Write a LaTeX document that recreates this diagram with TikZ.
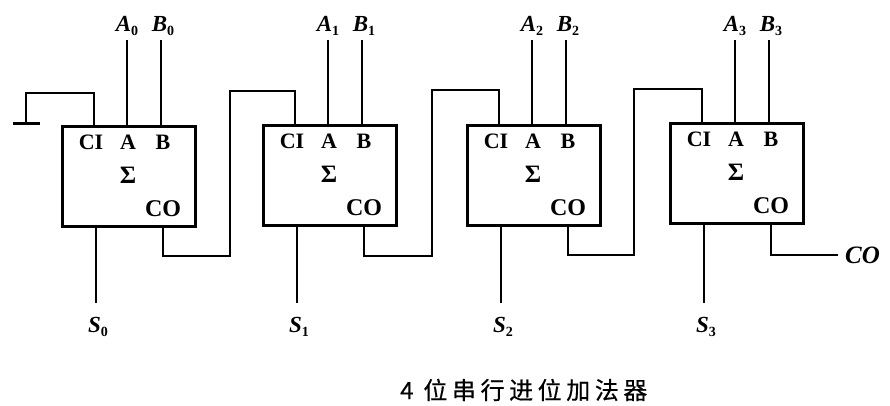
\documentclass[tikz,border=0pt]{standalone}
\usepackage{fontspec}
\setmainfont{Liberation Serif}
\newfontfamily\cjk[LetterSpace=19,FakeBold=0.5]{Noto Sans CJK SC}
\tikzset{
  adder/.style={draw,line width=2.6pt,minimum width=133pt,minimum height=100pt,inner sep=0pt,anchor=north west},
  wire/.style={draw,line width=1.3pt,line join=miter},
  pin/.style={font=\bfseries\fontsize{22}{22}\selectfont,inner sep=0pt},
  pinco/.style={font=\bfseries\fontsize{24}{24}\selectfont,inner sep=0pt},
  sig/.style={font=\bfseries\itshape\fontsize{23}{23}\selectfont,inner sep=0pt},
}
\newcommand{\subnum}[1]{\raisebox{-4pt}{\normalfont\bfseries\fontsize{14}{14}\selectfont #1}}
\begin{document}
\begin{tikzpicture}[x=1pt,y=-1pt]
\useasboundingbox (0,0) rectangle (890,406);
\foreach \i/\x/\y in {0/61/125,1/262/124,2/466/124,3/669/122}{
  \node[adder] (box\i) at (\x,\y) {};
  \node[pin] (ci\i) at (\x+30,\y+17) {CI};
  \node[pin] (a\i) at (\x+67,\y+17) {A};
  \node[pin] (b\i) at (\x+102,\y+17) {B};
  \node[pin,font=\bfseries\fontsize{25}{25}\selectfont] (sum\i) at (\x+67,\y+50) {Σ};
  \node[pinco] (co\i) at (\x+102,\y+84) {CO};
  \coordinate (ipa\i) at (\x+66,\y);
  \coordinate (ipb\i) at (\x+100,\y);
  \coordinate (ipc\i) at (\x+33,\y);
  \coordinate (ops\i) at (\x+35,\y+100);
  \coordinate (opc\i) at (\x+102,\y+100);
  \node[sig] (la\i) at (\x+66,26) {A\subnum{\i}};
  \node[sig] (lb\i) at (\x+102,26) {B\subnum{\i}};
  \node[sig] (ls\i) at (\x+37,327) {S\subnum{\i}};
  \draw[wire] (ipa\i) -- (ipa\i |- 0,40);
  \draw[wire] (ipb\i) -- (ipb\i |- 0,40);
  \draw[wire] (ops\i) -- (ops\i |- 0,303);
}
% ground
\coordinate (gnd) at (26,124);
\coordinate (gl) at (13,124);
\coordinate (gr) at (40,124);
\draw[line width=3pt] (gl) -- (gr);
\draw[wire] (gnd) -- (26,93) -- (ipc0 |- 0,93) -- (ipc0);
% carries
\draw[wire] (opc0) -- (opc0 |- 0,256) -- (230,256) -- (230,91) -- (ipc1 |- 0,91) -- (ipc1);
\draw[wire] (opc1) -- (opc1 |- 0,256) -- (432,256) -- (432,90) -- (ipc2 |- 0,90) -- (ipc2);
\draw[wire] (opc2) -- (opc2 |- 0,255) -- (634,255) -- (634,89) -- (ipc3 |- 0,89) -- (ipc3);
\node[sig,font=\bfseries\itshape\fontsize{25}{25}\selectfont,anchor=west] (cout) at (845,255) {CO};
\draw[wire] (opc3) -- (opc3 |- 0,255) -- ([xshift=-7pt]cout.west);
\node[inner sep=0pt,anchor=west] (cap) at (400,390) {\cjk\fontsize{24}{24}\selectfont 4 位串行进位加法器};
\end{tikzpicture}
\end{document}
